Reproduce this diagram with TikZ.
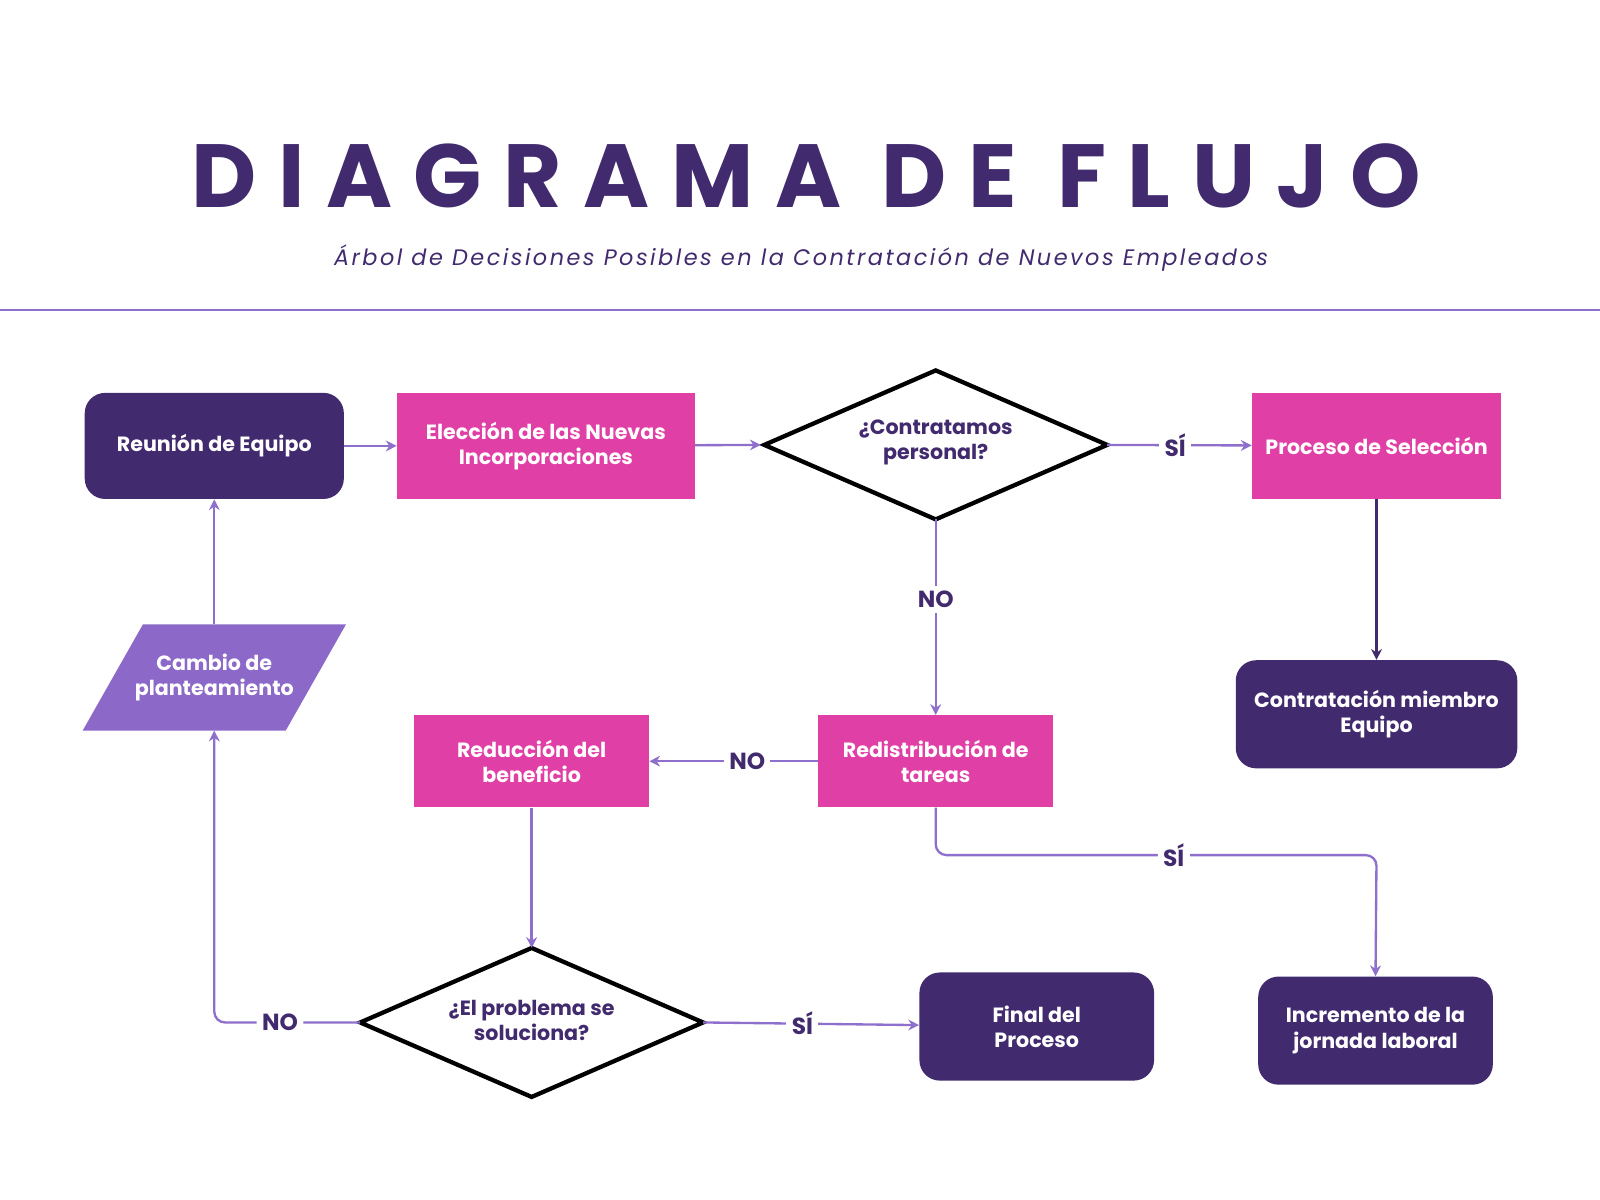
\documentclass[tikz,border=0pt]{standalone}
\usepackage{fontspec}
\setmainfont{Poppins}
\usetikzlibrary{shapes.geometric,arrows.meta}
\definecolor{dk}{HTML}{422A6E}
\definecolor{pk}{HTML}{E040A6}
\definecolor{lp}{HTML}{8C68C8}
\definecolor{ln}{HTML}{8E6FCB}
\begin{document}
\begin{tikzpicture}[x=0.02cm,y=-0.02cm,
  box/.style={draw=none,fill=pk,text=white,font=\bfseries\fontsize{11.5}{14}\selectfont,align=center,inner sep=0pt},
  rbox/.style={box,fill=dk,rounded corners=0.4cm},
  dia/.style={draw=black,line width=2.4pt,fill=white,line join=miter},
  dtxt/.style={text=dk,font=\bfseries\fontsize{11.5}{14}\selectfont,align=center},
  lab/.style={fill=white,text=dk,font=\bfseries\fontsize{13}{15}\selectfont,inner sep=3pt},
  arr/.style={draw=ln,line width=1.3pt,-{Stealth[length=6pt,width=6pt]}},
  ln/.style={draw=ln,line width=1.3pt}]
\useasboundingbox (0,0) rectangle (1568,1176);
\node[text=dk,font=\bfseries\fontsize{50}{60}\selectfont\addfontfeature{LetterSpace=24}] (title) at (790,172) {DIAGRAMA DE FLUJO};
\node[text=dk,font=\itshape\fontsize{12.5}{15}\selectfont\addfontfeature{LetterSpace=11}] (sub) at (785,253) {Árbol de Decisiones Posibles en la Contratación de Nuevos Empleados};
\draw[ln] (0,304) -- (1568,304);
\node[rbox,minimum width=5.08cm,minimum height=2.08cm] (reu) at (210,437) {Reunión de Equipo};
\node[box,minimum width=5.84cm,minimum height=2.08cm] (ele) at (535,437) {Elección de las Nuevas\\Incorporaciones};
% diamond 1
\coordinate (conW) at (749,436); \coordinate (conE) at (1085,436);
\coordinate (conN) at (917,363); \coordinate (conS) at (917,509);
\draw[dia] (conW) -- (conN) -- (conE) -- (conS) -- cycle;
\node[dtxt] (con) at (917,434) {¿Contratamos\\personal?};
\node[box,minimum width=4.88cm,minimum height=2.08cm] (pro) at (1349,437) {Proceso de Selección};
\node[rbox,minimum width=5.52cm,minimum height=2.12cm] (ctr) at (1349,700) {Contratación miembro\\Equipo};
\fill[lp] (81,716) -- (140,612) -- (339,612) -- (280,716) -- cycle;
\node[box,fill=none,minimum width=4cm,minimum height=2.08cm] (cam) at (210,664) {Cambio de\\planteamiento};
\node[box,minimum width=4.6cm,minimum height=1.8cm] (red) at (521,746) {Reducción del\\beneficio};
\node[box,minimum width=4.6cm,minimum height=1.8cm] (dis) at (917,746) {Redistribución de\\tareas};
% diamond 2
\coordinate (prbW) at (353,1002); \coordinate (prbE) at (689,1002);
\coordinate (prbN) at (521,929); \coordinate (prbS) at (521,1075);
\draw[dia] (prbW) -- (prbN) -- (prbE) -- (prbS) -- cycle;
\node[dtxt] (prb) at (521,1000) {¿El problema se\\soluciona?};
\node[rbox,minimum width=4.6cm,minimum height=2.12cm] (fin) at (1016,1006) {Final del\\Proceso};
\node[rbox,minimum width=4.6cm,minimum height=2.12cm] (inc) at (1348,1010) {Incremento de la\\jornada laboral};
\coordinate (c1) at (917,838);
\coordinate (c2) at (1349,838);
\coordinate (c3) at (210,1002);
\draw[arr] (reu) -- (ele);
\draw[arr] (ele) -- ([xshift=-2pt]conW);
\draw[arr] (conE) -- node[lab,pos=0.47]{SÍ} (pro);
\draw[draw=dk,line width=1.8pt,-{Stealth[length=6pt,width=6pt]}] (pro) -- (ctr);
\draw[arr] (conS) -- node[lab,pos=0.41]{NO} (dis);
\draw[arr] (dis) -- node[lab,pos=0.42]{NO} (red);
\draw[arr,rounded corners=6pt] (dis.south) -- (c1) -- node[lab,pos=0.54]{SÍ} (c2) -- (inc.north);
\draw[arr] (red) -- (prbN);
\draw[arr] (prbE) -- node[lab,pos=0.46]{SÍ} (fin);
\draw[arr,rounded corners=6pt] (prbW) -- node[lab,pos=0.55]{NO} (c3) -- (210,716);
\draw[arr] (210,612) -- (reu);
\end{tikzpicture}
\end{document}
